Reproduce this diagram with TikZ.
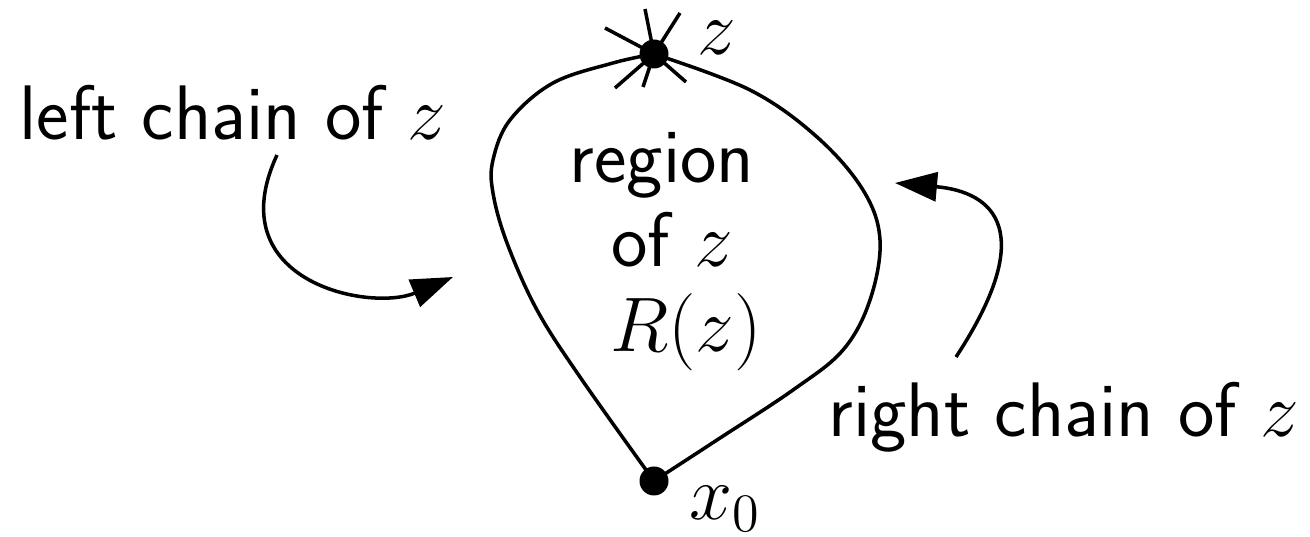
\RequirePackage{fix-cm}
\documentclass[tikz,border=0pt]{standalone}
\usepackage{amsmath}
\usepackage{tikz}
\usetikzlibrary{arrows.meta, positioning, calc}

\tikzset{
  dot/.style={circle, fill, inner sep=0pt, minimum size=0.29cm},
  chainarrow/.style={-{Triangle[length=0.42cm, width=0.29cm]}},
  lbl/.style={anchor=base, inner sep=0pt}
}

\begin{document}
\begin{tikzpicture}[line width=1pt, font=\sffamily\fontsize{22}{26}\selectfont]
  \useasboundingbox (0,0) rectangle (13.1,5.37);
  % the two end points of the region
  \node[dot] (z)  at (6.54,4.83) {};
  \node[dot] (x0) at (6.54,0.56) {};
  \node[lbl] (zlab)  at (7.17,4.82) {$z$};
  \node[lbl] (x0lab) at (7.25,0.17) {$x_0$};
  % short edges at z
  \foreach \dx/\dy in {-0.09/0.45, 0.26/0.41, -0.49/0.26, -0.39/-0.34, -0.11/-0.33, 0.32/-0.28}
  \draw (z.center) -- ++(\dx,\dy);
  % left chain
  \draw plot[smooth, tension=0.6] coordinates {(x0.center) (5.80,1.60) (5.37,2.27) (5.07,2.94)
    (4.93,3.44) (4.93,3.77) (5.10,4.17) (5.53,4.54) (6.13,4.74) (z.center)};
  % right chain
  \draw plot[smooth, tension=0.6] coordinates {(z.center) (7.50,4.47) (8.17,4.00) (8.63,3.47)
    (8.80,2.97) (8.70,2.37) (8.43,1.87) (7.93,1.47) (7.17,0.97) (x0.center)};
  % texts
  \node[lbl] (left)   at (2.33,3.97) {left chain of $z$};
  \node[lbl] (right)  at (10.64,1.00) {right chain of $z$};
  \node[lbl] (reg)    at (6.62,3.54) {region};
  \node[lbl] (regof)  at (6.72,2.70) {of $z$};
  \node[lbl] (regR)   at (6.86,1.85) {$R(z)$};
  % arrows from the labels to the chains
  \coordinate (lstart) at (2.77,3.82);
  \coordinate (ltip)   at (4.53,2.60);
  \coordinate (rstart) at (9.56,1.80);
  \coordinate (rtip)   at (8.95,3.54);
  \draw[chainarrow] (lstart) .. controls (2.18,2.55) and (3.70,2.25) .. (ltip);
  \draw[chainarrow] (rstart) .. controls (10.38,3.05) and (9.95,3.45) .. (rtip);
\end{tikzpicture}
\end{document}
